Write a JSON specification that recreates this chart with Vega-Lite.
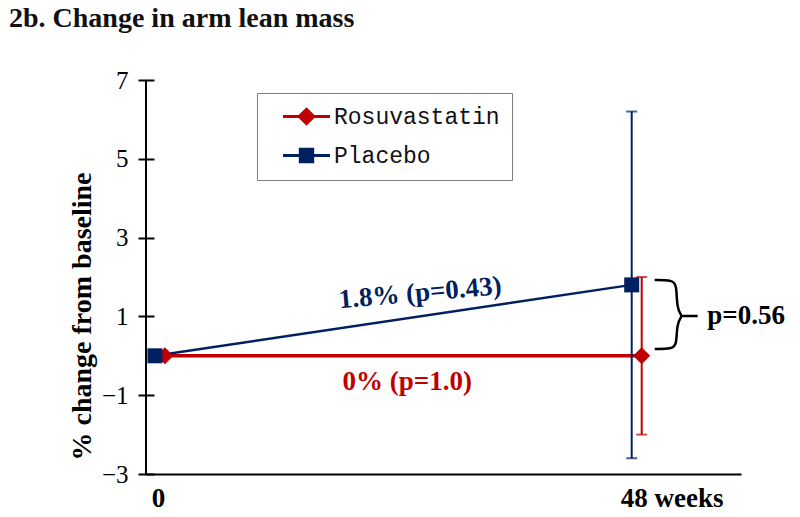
{
  "$schema": "https://vega.github.io/schema/vega-lite/v6.json",
  "width": 595,
  "height": 394,
  "autosize": {"type": "none"},
  "padding": {"left": 146, "top": 80, "right": 59, "bottom": 43},
  "background": "white",
  "config": {"view": {"stroke": null}},
  "title": {
    "text": "2b. Change in arm lean mass",
    "anchor": "start",
    "dx": -59,
    "offset": 13,
    "baseline": "alphabetic",
    "font": "Liberation Serif",
    "fontSize": 28,
    "fontWeight": "bold",
    "color": "#111111"
  },
  "datasets": {
    "series": [
      {"group": "Rosuvastatin", "week": 0, "value": 0},
      {"group": "Rosuvastatin", "week": 48, "value": 0, "lo": -2.0, "hi": 2.0},
      {"group": "Placebo", "week": 0, "value": 0},
      {"group": "Placebo", "week": 48, "value": 1.8, "lo": -2.6, "hi": 6.2}
    ],
    "brace": [
      {"order": 1, "x": 49.81, "y": 1.924},
      {"order": 2, "x": 51.52, "y": 1.924},
      {"order": 3, "x": 52.03, "y": 1.822},
      {"order": 4, "x": 52.03, "y": 1.213},
      {"order": 5, "x": 52.53, "y": 1.01},
      {"order": 6, "x": 52.53, "y": 1.01},
      {"order": 7, "x": 52.03, "y": 0.807},
      {"order": 8, "x": 52.03, "y": 0.274},
      {"order": 9, "x": 51.52, "y": 0.173},
      {"order": 10, "x": 49.81, "y": 0.173}
    ],
    "braceTick": [{"x": 52.53, "x2": 54.14, "y": 1.01}]
  },
  "data": {"name": "series"},
  "encoding": {
    "x": {
      "field": "week",
      "type": "quantitative",
      "scale": {"domain": [-1.4, 58.5], "nice": false, "zero": false},
      "axis": {
        "values": [0, 48],
        "labelExpr": "datum.value == 48 ? '48 weeks' : '0'",
        "labelOffset": {"condition": {"test": "datum.value == 48", "value": 35}, "value": -2},
        "title": null,
        "grid": false,
        "ticks": false,
        "domain": true,
        "domainColor": "#000000",
        "domainWidth": 2,
        "labelFont": "Liberation Serif",
        "labelFontSize": 27,
        "labelFontWeight": "bold",
        "labelColor": "#000000",
        "labelPadding": 11
      }
    },
    "y": {
      "field": "value",
      "type": "quantitative",
      "scale": {"domain": [-3, 7], "nice": false, "zero": false},
      "axis": {
        "values": [-3, -1, 1, 3, 5, 7],
        "grid": false,
        "domain": false,
        "offset": -8,
        "tickSize": 16,
        "tickWidth": 2,
        "tickColor": "#000000",
        "labelPadding": 10,
        "labelFont": "Liberation Serif",
        "labelFontSize": 25,
        "labelColor": "#000000",
        "title": "% change from baseline",
        "titleFont": "Liberation Serif",
        "titleFontSize": 28,
        "titleFontWeight": "bold",
        "titleColor": "#000000",
        "titleAngle": -90,
        "titleX": -72,
        "titleY": 236,
        "titleAlign": "center",
        "titleBaseline": "middle"
      }
    }
  },
  "layer": [
    {
      "mark": {"type": "rule", "color": "#000000", "strokeWidth": 2},
      "encoding": {"x": {"datum": -1.4}, "y": {"datum": -3}, "y2": {"datum": 7}}
    },
    {
      "transform": [{"filter": "datum.group == 'Rosuvastatin'"}],
      "mark": {"type": "line", "color": "#C00000", "strokeWidth": 3.5, "xOffset": 5}
    },
    {
      "transform": [{"filter": "datum.group == 'Rosuvastatin' && isValid(datum.lo)"}],
      "mark": {"type": "rule", "color": "#C00000", "strokeWidth": 2, "xOffset": 5},
      "encoding": {"y": {"field": "lo", "type": "quantitative"}, "y2": {"field": "hi"}}
    },
    {
      "transform": [{"filter": "datum.group == 'Rosuvastatin' && isValid(datum.lo)"}],
      "mark": {"type": "tick", "orient": "horizontal", "color": "#C00000", "size": 11, "thickness": 2, "xOffset": 5},
      "encoding": {"y": {"field": "lo", "type": "quantitative"}}
    },
    {
      "transform": [{"filter": "datum.group == 'Rosuvastatin' && isValid(datum.lo)"}],
      "mark": {"type": "tick", "orient": "horizontal", "color": "#C00000", "size": 11, "thickness": 2, "xOffset": 5},
      "encoding": {"y": {"field": "hi", "type": "quantitative"}}
    },
    {
      "transform": [{"filter": "datum.group == 'Placebo'"}],
      "mark": {"type": "line", "color": "#002060", "strokeWidth": 2.5, "xOffset": -5}
    },
    {
      "transform": [{"filter": "datum.group == 'Placebo' && isValid(datum.lo)"}],
      "mark": {"type": "rule", "color": "#002060", "strokeWidth": 2, "xOffset": -5},
      "encoding": {"y": {"field": "lo", "type": "quantitative"}, "y2": {"field": "hi"}}
    },
    {
      "transform": [{"filter": "datum.group == 'Placebo' && isValid(datum.lo)"}],
      "mark": {"type": "tick", "orient": "horizontal", "color": "#002060", "size": 11, "thickness": 2, "xOffset": -5},
      "encoding": {"y": {"field": "lo", "type": "quantitative"}}
    },
    {
      "transform": [{"filter": "datum.group == 'Placebo' && isValid(datum.lo)"}],
      "mark": {"type": "tick", "orient": "horizontal", "color": "#002060", "size": 11, "thickness": 2, "xOffset": -5},
      "encoding": {"y": {"field": "hi", "type": "quantitative"}}
    },
    {
      "transform": [{"filter": "datum.group == 'Rosuvastatin'"}],
      "mark": {"type": "point", "shape": "diamond", "filled": true, "color": "#C00000", "opacity": 1, "size": 289, "xOffset": 5}
    },
    {
      "transform": [{"filter": "datum.group == 'Placebo'"}],
      "mark": {"type": "point", "shape": "square", "filled": true, "color": "#002060", "opacity": 1, "size": 225, "xOffset": -5}
    },
    {
      "mark": {"type": "point", "filled": false, "opacity": 0, "strokeWidth": 3},
      "encoding": {
        "color": {
          "field": "group", "type": "nominal",
          "scale": {"domain": ["Rosuvastatin", "Placebo"], "range": ["#C00000", "#002060"]},
          "legend": {
            "title": null,
            "orient": "none",
            "legendX": 111,
            "legendY": 13,
            "direction": "vertical",
            "strokeColor": "#7F7F7F",
            "fillColor": "white",
            "padding": 12,
            "rowPadding": 13,
            "symbolSize": 400,
            "symbolOffset": 26,
            "symbolOpacity": 1,
            "symbolStrokeWidth": 3,
            "labelOffset": 16,
            "labelFont": "Liberation Mono",
            "labelFontSize": 23,
            "labelColor": "#111111",
            "labelLimit": 400
          }
        },
        "fill": {
          "field": "group", "type": "nominal",
          "scale": {"domain": ["Rosuvastatin", "Placebo"], "range": ["#C00000", "#002060"]}
        },
        "shape": {
          "field": "group", "type": "nominal",
          "scale": {
            "domain": ["Rosuvastatin", "Placebo"],
            "range": [
              "M-2.35,0L2.35,0M0,-0.72L0.72,0L0,0.72L-0.72,0Z",
              "M-2.35,0L2.35,0M-0.62,-0.62L0.62,-0.62L0.62,0.62L-0.62,0.62Z"
            ]
          }
        }
      }
    },
    {
      "data": {"name": "brace"},
      "mark": {"type": "line", "color": "#000000", "strokeWidth": 2.5, "interpolate": "basis"},
      "encoding": {
        "x": {"field": "x", "type": "quantitative"},
        "y": {"field": "y", "type": "quantitative"},
        "order": {"field": "order"}
      }
    },
    {
      "data": {"name": "braceTick"},
      "mark": {"type": "rule", "color": "#000000", "strokeWidth": 2.5},
      "encoding": {
        "x": {"field": "x", "type": "quantitative"},
        "x2": {"field": "x2"},
        "y": {"field": "y", "type": "quantitative"}
      }
    },
    {
      "data": {"values": [{"x": 26.2, "y": 1.59, "label": "1.8% (p=0.43)"}]},
      "mark": {"type": "text", "color": "#002060", "font": "Liberation Serif", "fontSize": 27, "fontWeight": "bold", "angle": -5, "align": "center", "baseline": "middle"},
      "encoding": {
        "x": {"field": "x", "type": "quantitative"},
        "y": {"field": "y", "type": "quantitative"},
        "text": {"field": "label"}
      }
    },
    {
      "data": {"values": [{"x": 24.9, "y": -0.66, "label": "0% (p=1.0)"}]},
      "mark": {"type": "text", "color": "#C00000", "font": "Liberation Serif", "fontSize": 27, "fontWeight": "bold", "align": "center", "baseline": "middle"},
      "encoding": {
        "x": {"field": "x", "type": "quantitative"},
        "y": {"field": "y", "type": "quantitative"},
        "text": {"field": "label"}
      }
    },
    {
      "data": {"values": [{"x": 55.1, "y": 1.01, "label": "p=0.56"}]},
      "mark": {"type": "text", "color": "#000000", "font": "Liberation Serif", "fontSize": 27, "fontWeight": "bold", "align": "left", "baseline": "middle"},
      "encoding": {
        "x": {"field": "x", "type": "quantitative"},
        "y": {"field": "y", "type": "quantitative"},
        "text": {"field": "label"}
      }
    }
  ]
}
